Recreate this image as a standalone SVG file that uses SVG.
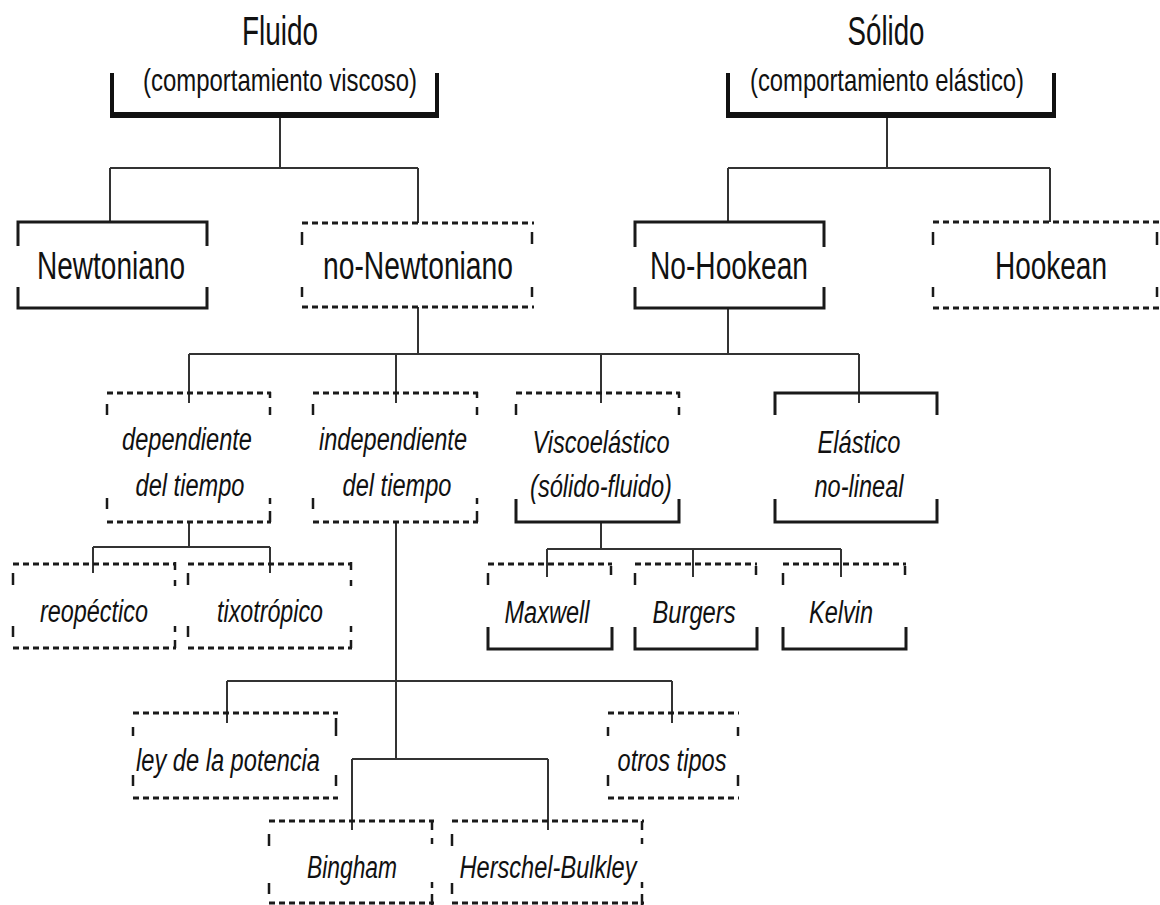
<svg xmlns="http://www.w3.org/2000/svg" width="1160" height="905" viewBox="0 0 1160 905">
<style>
text{font-family:"Liberation Sans",Arial,sans-serif;fill:#111;text-anchor:middle}
.t{font-size:40px}
.s{font-size:32px}
.n{font-size:38px}
.i{font-size:31px;font-style:italic}
.br{fill:none;stroke:#111;stroke-width:4;stroke-linejoin:miter}
.bb{fill:none;stroke:#111;stroke-width:6}
.sb{fill:none;stroke:#1a1a1a;stroke-width:3}
.db{fill:none;stroke:#1a1a1a;stroke-width:3;stroke-dasharray:6 4}
.tk{fill:none;stroke:#1a1a1a;stroke-width:2.5}
.c{fill:none;stroke:#333;stroke-width:2}
</style>
<rect width="1160" height="905" fill="#fff"/>
<g id="connectors">
<path class="c" d="M280,117V168M110,168H418M110,168V222M418,168V223"/>
<path class="c" d="M887,117V168M728,168H1050M728,168V222M1050,168V222"/>
<path class="c" d="M418,307V354M728,308V354M189,354H859M189,354V403M396,354V403M601,354V403M859,354V403"/>
<path class="c" d="M189,522V547M93,547H270M93,547V573M270,547V573"/>
<path class="c" d="M601,522V549M547,549H841M547,549V577M693,549V577M841,549V577"/>
<path class="c" d="M396,522V759M227,681H672M227,681V723M672,681V723M352,759H548M352,759V830M548,759V830"/>
</g>
<g id="fluido">
<path class="br" d="M112,73V115M437,73V115"/>
<path class="bb" d="M110,115H439"/>
<text class="t" x="280" y="45" textLength="76" lengthAdjust="spacingAndGlyphs">Fluido</text>
<text class="s" x="280" y="91" textLength="274" lengthAdjust="spacingAndGlyphs">(comportamiento viscoso)</text>
</g>
<g id="solido">
<path class="br" d="M728,73V115M1054,73V115"/>
<path class="bb" d="M726,115H1056"/>
<text class="t" x="886" y="45" textLength="77" lengthAdjust="spacingAndGlyphs">Sólido</text>
<text class="s" x="887" y="91" textLength="274" lengthAdjust="spacingAndGlyphs">(comportamiento elástico)</text>
</g>
<g id="newtoniano">
<path class="sb" d="M18,246V222H207V246M18,287V308H207V287"/>
<text class="n" x="111" y="279" textLength="148" lengthAdjust="spacingAndGlyphs">Newtoniano</text>
</g>
<g id="no-newtoniano">
<path class="db" d="M302,223H534M302,307H534"/>
<path class="tk" d="M302,232V245M532,232V244M302,287V297M532,287V297"/>
<text class="n" x="418" y="279" textLength="190" lengthAdjust="spacingAndGlyphs">no-Newtoniano</text>
</g>
<g id="no-hookean">
<path class="sb" d="M635,247V222H824V247M635,287V308H824V287"/>
<text class="n" x="729" y="279" textLength="158" lengthAdjust="spacingAndGlyphs">No-Hookean</text>
</g>
<g id="hookean">
<path class="db" d="M933,222H1160M933,308H1160"/>
<path class="tk" d="M933,232V245M1157,232V245M933,287V297M1157,287V297"/>
<text class="n" x="1051" y="279" textLength="112" lengthAdjust="spacingAndGlyphs">Hookean</text>
</g>
<g id="dependiente">
<path class="db" d="M107,393H271M107,522H271"/>
<path class="tk" d="M107,404V415M270,392V398M270,407V415M107,498V509M270,498V504M270,511V522"/>
<text class="i" x="187" y="450" textLength="130" lengthAdjust="spacingAndGlyphs">dependiente</text>
<text class="i" x="190" y="496" textLength="109" lengthAdjust="spacingAndGlyphs">del tiempo</text>
</g>
<g id="independiente">
<path class="db" d="M313,393H478M313,522H478"/>
<path class="tk" d="M313,404V415M477,392V398M477,407V415M313,498V509M477,498V504M477,511V522"/>
<text class="i" x="393" y="450" textLength="148" lengthAdjust="spacingAndGlyphs">independiente</text>
<text class="i" x="397" y="496" textLength="109" lengthAdjust="spacingAndGlyphs">del tiempo</text>
</g>
<g id="viscoelastico">
<path class="db" d="M516,393H680"/>
<path class="tk" d="M516,404V415M679,392V398M679,407V415"/>
<path class="sb" d="M516,499V522H679V499"/>
<text class="i" x="601" y="453" textLength="137" lengthAdjust="spacingAndGlyphs">Viscoelástico</text>
<text class="i" x="601" y="497" textLength="142" lengthAdjust="spacingAndGlyphs">(sólido-fluido)</text>
</g>
<g id="elastico">
<path class="sb" d="M775,415V393H937V415M775,499V522H937V499"/>
<text class="i" x="859" y="453" textLength="83" lengthAdjust="spacingAndGlyphs">Elástico</text>
<text class="i" x="859" y="497" textLength="89" lengthAdjust="spacingAndGlyphs">no-lineal</text>
</g>
<g id="reopectico">
<path class="db" d="M13,564H176M13,648H176"/>
<path class="tk" d="M13,573V585M175,562V570M175,580V586M13,626V637M175,626V632M175,640V648"/>
<text class="i" x="94" y="622" textLength="108" lengthAdjust="spacingAndGlyphs">reopéctico</text>
</g>
<g id="tixotropico">
<path class="db" d="M188,564H352M188,648H352"/>
<path class="tk" d="M188,573V585M351,562V570M351,580V586M188,626V637M351,626V632M351,640V648"/>
<text class="i" x="270" y="622" textLength="106" lengthAdjust="spacingAndGlyphs">tixotrópico</text>
</g>
<g id="maxwell">
<path class="db" d="M488,564H612"/>
<path class="tk" d="M488,573V585M611,566V575"/>
<path class="sb" d="M488,627V649H612V627"/>
<text class="i" x="547" y="623" textLength="85" lengthAdjust="spacingAndGlyphs">Maxwell</text>
</g>
<g id="burgers">
<path class="db" d="M635,564H757"/>
<path class="tk" d="M635,573V585M756,566V575"/>
<path class="sb" d="M635,627V649H757V627"/>
<text class="i" x="694" y="623" textLength="83" lengthAdjust="spacingAndGlyphs">Burgers</text>
</g>
<g id="kelvin">
<path class="db" d="M783,564H906"/>
<path class="tk" d="M783,573V585M905,566V575"/>
<path class="sb" d="M783,627V649H906V627"/>
<text class="i" x="841" y="623" textLength="64" lengthAdjust="spacingAndGlyphs">Kelvin</text>
</g>
<g id="ley-potencia">
<path class="db" d="M133,713H338M133,798H338"/>
<path class="tk" d="M133,727V736M336,718V736M133,775V786M336,775V786"/>
<text class="i" x="228" y="771" textLength="184" lengthAdjust="spacingAndGlyphs">ley de la potencia</text>
</g>
<g id="otros-tipos">
<path class="db" d="M608,713H739M608,798H739"/>
<path class="tk" d="M608,727V736M738,727V736M608,775V786M738,775V786"/>
<text class="i" x="672" y="771" textLength="109" lengthAdjust="spacingAndGlyphs">otros tipos</text>
</g>
<g id="bingham">
<path class="db" d="M269,821H434M269,903H434"/>
<path class="tk" d="M269,834V846M432,821V830M432,838V844M269,883V894M432,882V888M432,894V905"/>
<text class="i" x="352" y="878" textLength="90" lengthAdjust="spacingAndGlyphs">Bingham</text>
</g>
<g id="herschel-bulkley">
<path class="db" d="M452,821H644M452,903H644"/>
<path class="tk" d="M452,834V846M642,821V830M642,838V844M452,883V894M642,882V888M642,894V905"/>
<text class="i" x="548" y="878" textLength="177" lengthAdjust="spacingAndGlyphs">Herschel-Bulkley</text>
</g>
</svg>
